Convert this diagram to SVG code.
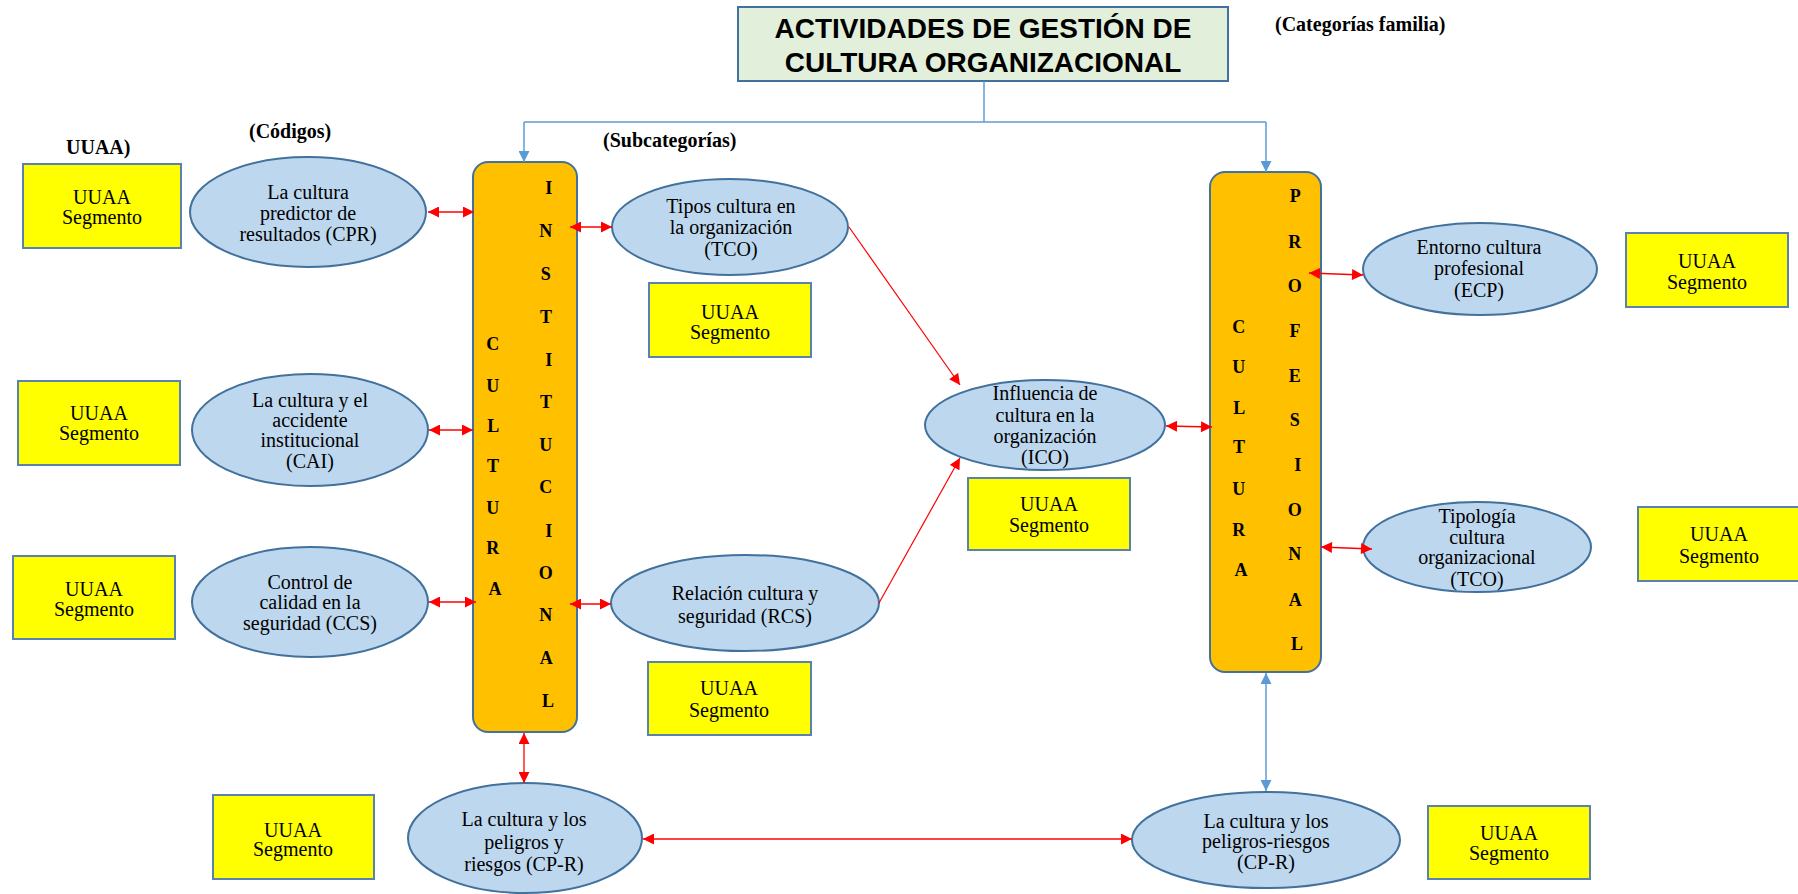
<svg xmlns="http://www.w3.org/2000/svg" width="1798" height="894" viewBox="0 0 1798 894">
  <defs>
    <style>
      .title-box { fill: #E2EFDA; stroke: #41719C; stroke-width: 2; }
      .title { font-family: "Liberation Sans", Arial, sans-serif; font-weight: bold; font-size: 28px; fill: #000; text-anchor: middle; }
      .label { font-family: "Liberation Serif", "Times New Roman", serif; font-weight: bold; font-size: 20px; fill: #000; }
      .bar { fill: #FFC000; stroke: #41719C; stroke-width: 2; }
      .bar-letter { font-family: "Liberation Serif", "Times New Roman", serif; font-weight: bold; font-size: 18px; fill: #000; text-anchor: middle; }
      .code { fill: #BDD7EE; stroke: #41719C; stroke-width: 2; }
      .seg { fill: #FFFF00; stroke: #5A82AE; stroke-width: 2; }
      .txt { font-family: "Liberation Serif", "Times New Roman", serif; font-size: 20px; fill: #000; text-anchor: middle; }
      .red2 { fill: none; stroke: #FF0000; stroke-width: 1.3; marker-start: url(#ra); marker-end: url(#ra); }
      .red1 { fill: none; stroke: #FF0000; stroke-width: 1.2; marker-end: url(#ra); }
      .blue { fill: none; stroke: #5B9BD5; stroke-width: 1.5; }
      .blue1 { fill: none; stroke: #5B9BD5; stroke-width: 1.5; marker-end: url(#ba); }
      .blue2 { fill: none; stroke: #5B9BD5; stroke-width: 1.5; marker-start: url(#ba); marker-end: url(#ba); }
    </style>
    <marker id="ra" viewBox="0 0 10 10" refX="10" refY="5" markerWidth="12" markerHeight="11" markerUnits="userSpaceOnUse" orient="auto-start-reverse">
      <path d="M0,0 L10,5 L0,10 Z" fill="#FF0000"/>
    </marker>
    <marker id="ba" viewBox="0 0 10 10" refX="10" refY="5" markerWidth="12" markerHeight="11" markerUnits="userSpaceOnUse" orient="auto-start-reverse">
      <path d="M0,0 L10,5 L0,10 Z" fill="#5B9BD5"/>
    </marker>
  </defs>

  <rect width="1798" height="894" fill="#FFFFFF"/>

  <!-- title -->
  <g id="title">
    <rect class="title-box" x="738" y="7" width="490" height="74"/>
    <text class="title" x="983" y="38">ACTIVIDADES DE GESTIÓN DE</text>
    <text class="title" x="983" y="72">CULTURA ORGANIZACIONAL</text>
  </g>

  <!-- column headings -->
  <g id="headings">
    <text class="label" x="1275" y="31">(Categorías familia)</text>
    <text class="label" x="249" y="138">(Códigos)</text>
    <text class="label" x="66" y="154">UUAA)</text>
    <text class="label" x="603" y="147">(Subcategorías)</text>
  </g>

  <!-- Cultura Institucional -->
  <g id="cultura-institucional">
    <rect class="bar" x="473" y="162" width="104" height="570" rx="15" ry="15"/>
    <text class="bar-letter">
      <tspan x="495" y="350">C</tspan>
      <tspan x="495" y="392">U</tspan>
      <tspan x="495" y="432">L</tspan>
      <tspan x="495" y="472">T</tspan>
      <tspan x="495" y="514">U</tspan>
      <tspan x="495" y="554">R</tspan>
      <tspan x="495" y="595">A</tspan>
    </text>
    <text class="bar-letter">
      <tspan x="551" y="194">I</tspan>
      <tspan x="548" y="237">N</tspan>
      <tspan x="548" y="280">S</tspan>
      <tspan x="548" y="323">T</tspan>
      <tspan x="551" y="366">I</tspan>
      <tspan x="548" y="408">T</tspan>
      <tspan x="548" y="451">U</tspan>
      <tspan x="548" y="493">C</tspan>
      <tspan x="551" y="537">I</tspan>
      <tspan x="548" y="579">O</tspan>
      <tspan x="548" y="621">N</tspan>
      <tspan x="548" y="664">A</tspan>
      <tspan x="548" y="707">L</tspan>
    </text>
  </g>

  <!-- Cultura Profesional -->
  <g id="cultura-profesional">
    <rect class="bar" x="1210" y="172" width="111" height="500" rx="15" ry="15"/>
    <text class="bar-letter">
      <tspan x="1241" y="333">C</tspan>
      <tspan x="1241" y="373">U</tspan>
      <tspan x="1241" y="414">L</tspan>
      <tspan x="1241" y="453">T</tspan>
      <tspan x="1241" y="495">U</tspan>
      <tspan x="1241" y="536">R</tspan>
      <tspan x="1241" y="576">A</tspan>
    </text>
    <text class="bar-letter">
      <tspan x="1297" y="202">P</tspan>
      <tspan x="1297" y="248">R</tspan>
      <tspan x="1297" y="292">O</tspan>
      <tspan x="1297" y="337">F</tspan>
      <tspan x="1297" y="382">E</tspan>
      <tspan x="1297" y="426">S</tspan>
      <tspan x="1300" y="471">I</tspan>
      <tspan x="1297" y="516">O</tspan>
      <tspan x="1297" y="560">N</tspan>
      <tspan x="1297" y="606">A</tspan>
      <tspan x="1297" y="650">L</tspan>
    </text>
  </g>

  <!-- codes -->
  <g id="cpr">
    <ellipse class="code" cx="308" cy="212" rx="118" ry="55"/>
    <text class="txt"><tspan x="308" y="199">La cultura</tspan><tspan x="308" y="220">predictor de</tspan><tspan x="308" y="241">resultados (CPR)</tspan></text>
  </g>
  <g id="cai">
    <ellipse class="code" cx="310" cy="430" rx="118" ry="56"/>
    <text class="txt"><tspan x="310" y="407">La cultura y el</tspan><tspan x="310" y="427">accidente</tspan><tspan x="310" y="447">institucional</tspan><tspan x="310" y="468">(CAI)</tspan></text>
  </g>
  <g id="ccs">
    <ellipse class="code" cx="310" cy="602" rx="118" ry="55"/>
    <text class="txt"><tspan x="310" y="589">Control de</tspan><tspan x="310" y="609">calidad en la</tspan><tspan x="310" y="630">seguridad (CCS)</tspan></text>
  </g>
  <g id="tco">
    <ellipse class="code" cx="730" cy="227" rx="118" ry="48"/>
    <text class="txt"><tspan x="731" y="213">Tipos cultura en</tspan><tspan x="731" y="234">la organización</tspan><tspan x="731" y="256">(TCO)</tspan></text>
  </g>
  <g id="rcs">
    <ellipse class="code" cx="745" cy="603" rx="134" ry="48"/>
    <text class="txt"><tspan x="745" y="600">Relación cultura y</tspan><tspan x="745" y="623">seguridad (RCS)</tspan></text>
  </g>
  <g id="ico">
    <ellipse class="code" cx="1045" cy="425" rx="120" ry="45"/>
    <text class="txt"><tspan x="1045" y="400">Influencia de</tspan><tspan x="1045" y="422">cultura en la</tspan><tspan x="1045" y="443">organización</tspan><tspan x="1045" y="464">(ICO)</tspan></text>
  </g>
  <g id="ecp">
    <ellipse class="code" cx="1480" cy="269" rx="117" ry="46"/>
    <text class="txt"><tspan x="1479" y="254">Entorno cultura</tspan><tspan x="1479" y="275">profesional</tspan><tspan x="1479" y="297">(ECP)</tspan></text>
  </g>
  <g id="tipologia-tco">
    <ellipse class="code" cx="1477" cy="547" rx="114" ry="45"/>
    <text class="txt"><tspan x="1477" y="523">Tipología</tspan><tspan x="1477" y="544">cultura</tspan><tspan x="1477" y="564">organizacional</tspan><tspan x="1477" y="586">(TCO)</tspan></text>
  </g>
  <g id="cpr-institucional">
    <ellipse class="code" cx="525" cy="838" rx="117" ry="55"/>
    <text class="txt"><tspan x="524" y="826">La cultura y los</tspan><tspan x="524" y="849">peligros y</tspan><tspan x="524" y="871">riesgos (CP-R)</tspan></text>
  </g>
  <g id="cpr-profesional">
    <ellipse class="code" cx="1266" cy="840" rx="134" ry="48"/>
    <text class="txt"><tspan x="1266" y="828">La cultura y los</tspan><tspan x="1266" y="848">peligros-riesgos</tspan><tspan x="1266" y="869">(CP-R)</tspan></text>
  </g>

  <!-- UUAA segment boxes -->
  <g id="seg-1">
    <rect class="seg" x="23" y="164" width="158" height="84"/>
    <text class="txt"><tspan x="102" y="204">UUAA</tspan><tspan x="102" y="224">Segmento</tspan></text>
  </g>
  <g id="seg-2">
    <rect class="seg" x="18" y="381" width="162" height="84"/>
    <text class="txt"><tspan x="99" y="420">UUAA</tspan><tspan x="99" y="440">Segmento</tspan></text>
  </g>
  <g id="seg-3">
    <rect class="seg" x="13" y="556" width="162" height="83"/>
    <text class="txt"><tspan x="94" y="596">UUAA</tspan><tspan x="94" y="616">Segmento</tspan></text>
  </g>
  <g id="seg-4">
    <rect class="seg" x="649" y="283" width="162" height="74"/>
    <text class="txt"><tspan x="730" y="319">UUAA</tspan><tspan x="730" y="339">Segmento</tspan></text>
  </g>
  <g id="seg-5">
    <rect class="seg" x="648" y="662" width="163" height="73"/>
    <text class="txt"><tspan x="729" y="695">UUAA</tspan><tspan x="729" y="717">Segmento</tspan></text>
  </g>
  <g id="seg-6">
    <rect class="seg" x="968" y="478" width="162" height="72"/>
    <text class="txt"><tspan x="1049" y="511">UUAA</tspan><tspan x="1049" y="532">Segmento</tspan></text>
  </g>
  <g id="seg-7">
    <rect class="seg" x="1626" y="233" width="162" height="74"/>
    <text class="txt"><tspan x="1707" y="268">UUAA</tspan><tspan x="1707" y="289">Segmento</tspan></text>
  </g>
  <g id="seg-8">
    <rect class="seg" x="1638" y="507" width="162" height="74"/>
    <text class="txt"><tspan x="1719" y="541">UUAA</tspan><tspan x="1719" y="563">Segmento</tspan></text>
  </g>
  <g id="seg-9">
    <rect class="seg" x="213" y="795" width="161" height="84"/>
    <text class="txt"><tspan x="293" y="837">UUAA</tspan><tspan x="293" y="856">Segmento</tspan></text>
  </g>
  <g id="seg-10">
    <rect class="seg" x="1428" y="806" width="162" height="73"/>
    <text class="txt"><tspan x="1509" y="840">UUAA</tspan><tspan x="1509" y="860">Segmento</tspan></text>
  </g>

  <!-- connectors, drawn last so arrowheads sit on top of the bars -->
  <g id="connectors">
    <!-- family tree from the title -->
    <path class="blue" d="M984,81 V122"/>
    <path class="blue" d="M524,122 H1266"/>
    <path class="blue1" d="M524,122 V162"/>
    <path class="blue1" d="M1266,122 V172"/>
    <path class="blue2" d="M1266,673 V791"/>

    <!-- codes to Cultura Institucional -->
    <path class="red2" d="M428,212 H474"/>
    <path class="red2" d="M429,430 H473"/>
    <path class="red2" d="M429,602 H476"/>
    <path class="red2" d="M570,227 H612"/>
    <path class="red2" d="M570,604 H611"/>
    <path class="red2" d="M524,733 V783"/>

    <!-- subcategories to ICO -->
    <path class="red1" d="M849,227 L960,385"/>
    <path class="red1" d="M879,603 L960,458"/>
    <path class="red2" d="M1166,426 L1212,427"/>

    <!-- Cultura Profesional -->
    <path class="red2" d="M1309,273 L1363,275"/>
    <path class="red2" d="M1321,547 L1372,549"/>

    <!-- peligros y riesgos -->
    <path class="red2" d="M643,839 H1132"/>
  </g>
</svg>
